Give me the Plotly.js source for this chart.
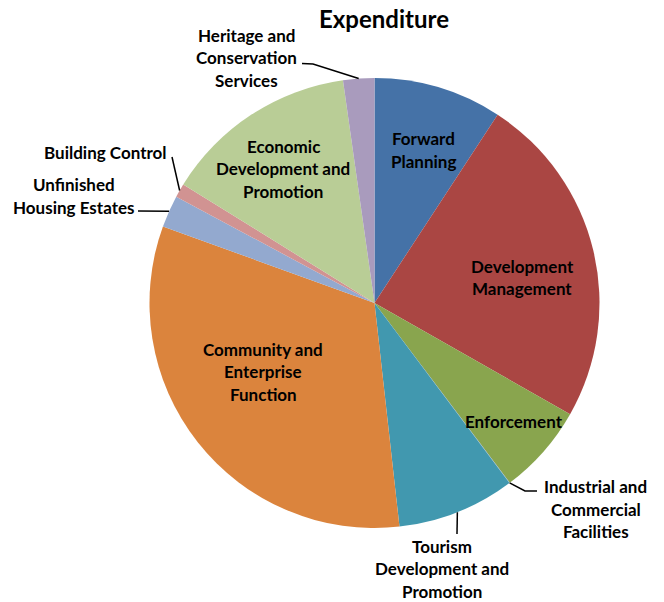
<!DOCTYPE html>
<html>
<head>
<meta charset="utf-8">
<script src="https://cdn.plot.ly/plotly-3.0.1.min.js"></script>
<style>
  html, body { margin: 0; padding: 0; background: #fff; }
  #chart { width: 664px; height: 602px; }
</style>
</head>
<body>
<div id="chart"></div>
<script>
// ---- data ----
const categories = [
  "Forward Planning",
  "Development Management",
  "Enforcement",
  "Industrial and Commercial Facilities",
  "Tourism Development and Promotion",
  "Community and Enterprise Function",
  "Unfinished Housing Estates",
  "Building Control",
  "Economic Development and Promotion",
  "Heritage and Conservation Services"
];
const values = [9.22, 24.02, 6.51, 0.03, 8.47, 32.31, 2.31, 0.99, 13.94, 2.24];
const labelLines = [
  ["Forward", "Planning"],
  ["Development", "Management"],
  ["Enforcement"],
  ["Industrial and", "Commercial", "Facilities"],
  ["Tourism", "Development and", "Promotion"],
  ["Community and", "Enterprise", "Function"],
  ["Unfinished", "Housing Estates"],
  ["Building Control"],
  ["Economic", "Development and", "Promotion"],
  ["Heritage and", "Conservation", "Services"]
];
const chartTitle = "Expenditure";

// ---- style ----
const colors = ["#4572A7", "#AA4643", "#89A54E", "#92A8CD", "#4198AF",
                "#DB843D", "#93A9CF", "#D19392", "#B9CD96", "#A99BBD"];
const W = 664, H = 602;
const CX = 374.5, CY = 303, R = 225;
const LINE_H = 22.5;
const FONT = "Lato, 'Open Sans', sans-serif";
// label block centres (pixels)
const labelPos = [
  [424, 150], [522, 277.5], [514, 421], [595.5, 509], [441.5, 568.5],
  [263, 371.5], [73.5, 196], [106, 152], [283, 168.5], [246.5, 58]
];
// leader line extra points (from label towards the slice), pixels; null = no leader
const leaderPts = [
  null, null, null,
  [[537, 491], [525, 491]],
  [[457, 534]],
  null,
  [[138, 211]],
  [[172, 157]],
  null,
  [[302, 63.5], [313, 64]]
];

const px2x = p => p / W;
const py2y = p => 1 - p / H;

const total = values.reduce((a, b) => a + b, 0);
let cum = 0;
const midAngles = values.map(v => { const m = (cum + v / 2) / total * 360; cum += v; return m; });

const annotations = [];
labelLines.forEach((lines, i) => {
  const [lx, ly] = labelPos[i];
  lines.forEach((t, k) => {
    const y = ly + (k - (lines.length - 1) / 2) * LINE_H;
    annotations.push({
      text: "<b>" + t + "</b>", x: px2x(lx), y: py2y(y),
      xref: "paper", yref: "paper", xanchor: "center", yanchor: "middle",
      showarrow: false,
      font: { family: FONT, size: 17, color: "#000" }
    });
  });
});

const shapes = [];
leaderPts.forEach((pts, i) => {
  if (!pts) return;
  const a = midAngles[i] * Math.PI / 180;
  const rim = [CX + R * Math.sin(a), CY - R * Math.cos(a)];
  const all = pts.concat([rim]);
  const path = all.map((p, k) => (k ? "L" : "M") + px2x(p[0]).toFixed(5) + "," + py2y(p[1]).toFixed(5)).join(" ");
  shapes.push({ type: "path", xref: "paper", yref: "paper", path: path,
                line: { color: "#000", width: 1.5 } });
});

const trace = {
  type: "pie",
  labels: categories,
  values: values,
  sort: false,
  direction: "clockwise",
  rotation: 0,
  textinfo: "none",
  hoverinfo: "label+value",
  marker: { colors: colors, line: { width: 0 } },
  domain: { x: [(CX - R) / W, (CX + R) / W], y: [1 - (CY + R) / H, 1 - (CY - R) / H] }
};

const layout = {
  width: W, height: H,
  margin: { l: 0, r: 0, t: 0, b: 0 },
  paper_bgcolor: "#fff",
  showlegend: false,
  title: {
    text: "<b>" + chartTitle + "</b>",
    font: { family: FONT, size: 24, color: "#000" },
    x: 384 / W, xanchor: "center", y: 1 - 20 / H, yanchor: "middle"
  },
  annotations: annotations,
  shapes: shapes
};

Plotly.newPlot("chart", [trace], layout, { displayModeBar: false, staticPlot: true });
</script>
</body>
</html>
